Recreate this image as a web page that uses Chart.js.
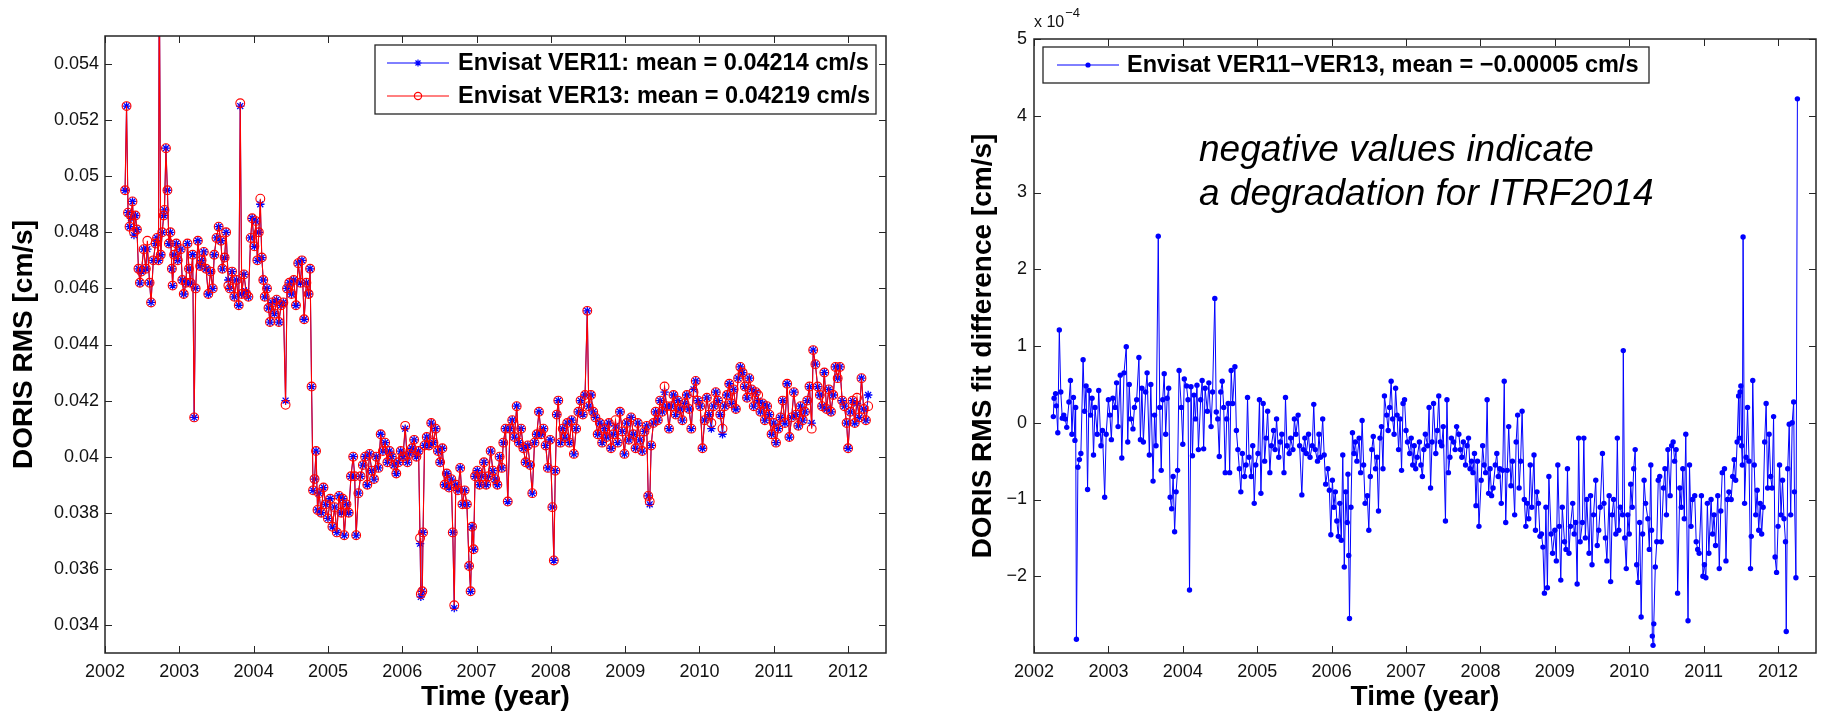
<!DOCTYPE html>
<html><head><meta charset="utf-8">
<script src="https://cdn.jsdelivr.net/npm/chart.js@4/dist/chart.umd.min.js"></script>
<style>
html,body{margin:0;padding:0;background:#fff;width:1825px;height:713px;overflow:hidden}
#c1{position:absolute;left:0;top:0}
#c2{position:absolute;left:920px;top:0}
</style></head><body>
<canvas id="c1" width="920" height="713"></canvas>
<canvas id="c2" width="905" height="713"></canvas>
<script>
// ---------- DATA ----------
const xTicks = [2002,2003,2004,2005,2006,2007,2008,2009,2010,2011,2012];
const yTicksLeft = [0.034,0.036,0.038,0.040,0.042,0.044,0.046,0.048,0.050,0.052,0.054];
const yTicksRight = [-2,-1,0,1,2,3,4,5];
const labelVer11 = 'Envisat VER11: mean = 0.04214 cm/s';
const labelVer13 = 'Envisat VER13: mean = 0.04219 cm/s';
const labelDiff = 'Envisat VER11\u2212VER13, mean = \u22120.00005 cm/s';
const noteLines = ['negative values indicate', 'a degradation for ITRF2014'];

const years1 = [
2002.27,2002.29,2002.31,2002.33,2002.35,2002.37,2002.39,2002.41,2002.43,2002.45,
2002.47,2002.49,2002.52,2002.55,2002.57,2002.60,2002.62,2002.65,2002.68,2002.70,
2002.72,2002.73,2002.75,2002.77,2002.79,2002.80,2002.82,2002.84,2002.86,2002.88,
2002.90,2002.91,2002.93,2002.96,2002.98,2003.02,2003.04,2003.06,2003.09,2003.11,
2003.13,2003.15,2003.18,2003.20,2003.22,2003.25,2003.28,2003.30,2003.33,2003.36,
2003.39,2003.42,2003.45,2003.47,2003.50,2003.53,2003.56,2003.58,2003.61,2003.63,
2003.66,2003.68,2003.71,2003.74,2003.77,2003.80,2003.82,2003.84,2003.87,2003.90,
2003.93,2003.96,2003.98,2004.01,2004.03,2004.05,2004.07,2004.09,2004.11,2004.13,
2004.15,2004.18,2004.20,2004.22,2004.25,2004.28,2004.31,2004.34,2004.37,2004.40,
2004.43,2004.45,2004.48,2004.51,2004.54,2004.57,2004.60,2004.63,2004.65,2004.68,
2004.71,2004.74,2004.76,2004.78,2004.80,2004.82,2004.84,2004.86,2004.88,2004.91,
2004.94,2004.97,2005.00,2005.03,2005.06,2005.09,2005.12,2005.15,2005.18,2005.20,
2005.22,2005.25,2005.28,2005.31,2005.34,2005.36,2005.38,2005.41,2005.44,2005.47,
2005.50,2005.53,2005.56,2005.59,2005.62,2005.65,2005.68,2005.71,2005.74,2005.77,
2005.80,2005.83,2005.86,2005.89,2005.92,2005.95,2005.98,2006.01,2006.04,2006.07,
2006.10,2006.13,2006.16,2006.19,2006.22,2006.24,2006.25,2006.27,2006.28,2006.30,
2006.33,2006.36,2006.39,2006.42,2006.45,2006.48,2006.51,2006.54,2006.57,2006.60,
2006.63,2006.66,2006.68,2006.70,2006.72,2006.75,2006.78,2006.81,2006.84,2006.87,
2006.90,2006.92,2006.94,2006.96,2006.98,2007.01,2007.04,2007.07,2007.10,2007.13,
2007.16,2007.19,2007.22,2007.25,2007.28,2007.31,2007.34,2007.36,2007.39,2007.42,
2007.45,2007.48,2007.51,2007.54,2007.57,2007.60,2007.63,2007.66,2007.69,2007.72,
2007.75,2007.78,2007.81,2007.84,2007.87,2007.90,2007.93,2007.96,2007.99,2008.02,
2008.04,2008.06,2008.08,2008.10,2008.13,2008.16,2008.19,2008.22,2008.25,2008.28,
2008.31,2008.34,2008.37,2008.40,2008.43,2008.46,2008.49,2008.51,2008.54,2008.57,
2008.60,2008.63,2008.66,2008.69,2008.72,2008.75,2008.78,2008.81,2008.84,2008.87,
2008.90,2008.93,2008.96,2008.99,2009.02,2009.05,2009.08,2009.11,2009.14,2009.17,
2009.20,2009.23,2009.26,2009.29,2009.31,2009.33,2009.35,2009.38,2009.41,2009.44,
2009.47,2009.50,2009.53,2009.56,2009.59,2009.62,2009.65,2009.68,2009.71,2009.74,
2009.77,2009.80,2009.83,2009.86,2009.89,2009.92,2009.95,2009.98,2010.01,2010.04,
2010.07,2010.10,2010.13,2010.16,2010.19,2010.22,2010.25,2010.28,2010.31,2010.34,
2010.37,2010.40,2010.43,2010.46,2010.49,2010.52,2010.55,2010.58,2010.61,2010.64,
2010.67,2010.70,2010.73,2010.76,2010.79,2010.82,2010.85,2010.88,2010.91,2010.94,
2010.97,2011.00,2011.03,2011.06,2011.09,2011.12,2011.15,2011.18,2011.21,2011.24,
2011.27,2011.30,2011.33,2011.36,2011.39,2011.42,2011.45,2011.48,2011.51,2011.53,
2011.56,2011.59,2011.62,2011.65,2011.68,2011.71,2011.74,2011.77,2011.80,2011.83,
2011.86,2011.89,2011.92,2011.95,2011.98,2012.00,2012.03,2012.06,2012.09,2012.12,
2012.15,2012.18,2012.21,2012.24,2012.27];

const ver11 = [
.0495,.0525,.0487,.0482,.0485,.0491,.0479,.0486,.0481,.0467,
.0462,.0466,.0474,.0467,.0474,.0462,.0455,.0470,.0476,.0478,
.0470,.0580,.0472,.0480,.0486,.0488,.0510,.0495,.0476,.0480,
.0467,.0461,.0472,.0476,.0470,.0474,.0463,.0458,.0462,.0476,
.0467,.0462,.0472,.0414,.0460,.0477,.0468,.0470,.0473,.0467,
.0458,.0466,.0460,.0472,.0478,.0482,.0477,.0467,.0471,.0480,
.0463,.0460,.0466,.0457,.0463,.0454,.0525,.0458,.0465,.0459,
.0457,.0478,.0485,.0475,.0484,.0470,.0480,.0490,.0471,.0463,
.0457,.0460,.0453,.0448,.0455,.0451,.0456,.0448,.0454,.0455,
.0420,.0460,.0462,.0458,.0463,.0454,.0469,.0462,.0470,.0449,
.0462,.0458,.0467,.0425,.0388,.0392,.0402,.0381,.0387,.0380,
.0389,.0383,.0378,.0385,.0375,.0382,.0373,.0386,.0380,.0385,
.0372,.0383,.0380,.0393,.0400,.0393,.0372,.0387,.0393,.0397,
.0400,.0390,.0401,.0395,.0392,.0400,.0396,.0408,.0402,.0405,
.0398,.0402,.0400,.0397,.0394,.0398,.0402,.0400,.0410,.0398,
.0401,.0403,.0406,.0400,.0402,.0369,.0350,.0352,.0373,.0404,
.0407,.0404,.0412,.0405,.0410,.0402,.0398,.0403,.0390,.0394,
.0389,.0392,.0373,.0346,.0390,.0388,.0396,.0383,.0388,.0383,
.0361,.0352,.0375,.0367,.0393,.0395,.0390,.0393,.0398,.0390,
.0393,.0402,.0395,.0392,.0390,.0400,.0396,.0405,.0410,.0384,
.0410,.0413,.0407,.0418,.0405,.0410,.0403,.0398,.0404,.0397,
.0387,.0405,.0408,.0416,.0408,.0410,.0404,.0396,.0406,.0382,
.0363,.0395,.0415,.0420,.0405,.0410,.0407,.0412,.0405,.0413,
.0401,.0410,.0416,.0420,.0415,.0422,.0452,.0418,.0422,.0416,
.0414,.0408,.0412,.0405,.0410,.0407,.0412,.0403,.0408,.0411,
.0405,.0416,.0409,.0401,.0412,.0406,.0414,.0408,.0403,.0412,
.0406,.0402,.0409,.0411,.0386,.0383,.0404,.0412,.0416,.0413,
.0420,.0416,.0423,.0418,.0410,.0418,.0422,.0415,.0420,.0417,
.0413,.0419,.0422,.0417,.0410,.0424,.0427,.0420,.0418,.0403,
.0413,.0421,.0415,.0410,.0418,.0423,.0420,.0415,.0408,.0418,
.0422,.0426,.0419,.0424,.0417,.0428,.0432,.0430,.0425,.0421,
.0428,.0424,.0418,.0423,.0420,.0416,.0419,.0413,.0418,.0415,
.0408,.0412,.0405,.0410,.0414,.0420,.0412,.0426,.0407,.0414,
.0423,.0415,.0411,.0418,.0413,.0416,.0420,.0425,.0412,.0438,
.0433,.0425,.0422,.0418,.0430,.0417,.0424,.0416,.0422,.0432,
.0428,.0432,.0420,.0418,.0412,.0403,.0416,.0420,.0412,.0419,
.0414,.0428,.0417,.0413,.0422];

const ver13 = [
.0495,.0525,.0487,.0482,.0486,.0491,.0480,.0486,.0481,.0467,
.0462,.0466,.0474,.0467,.0477,.0462,.0455,.0470,.0476,.0478,
.0470,.0580,.0472,.0480,.0486,.0488,.0510,.0495,.0476,.0480,
.0467,.0461,.0472,.0476,.0470,.0474,.0463,.0458,.0462,.0476,
.0467,.0462,.0472,.0414,.0460,.0477,.0468,.0470,.0473,.0467,
.0458,.0466,.0460,.0472,.0478,.0482,.0477,.0467,.0471,.0480,
.0461,.0460,.0466,.0457,.0463,.0454,.0526,.0458,.0465,.0458,
.0457,.0478,.0485,.0475,.0484,.0470,.0480,.0492,.0471,.0463,
.0457,.0460,.0453,.0448,.0455,.0451,.0456,.0448,.0454,.0455,
.04185,.0460,.0462,.0458,.0463,.0454,.0469,.0462,.0470,.0449,
.0462,.0458,.0467,.0425,.0388,.0392,.0402,.0381,.0387,.0380,
.0389,.0383,.0378,.0385,.0375,.0382,.0373,.0386,.0380,.0385,
.0372,.0383,.0380,.0393,.0400,.0393,.0372,.0387,.0393,.0397,
.0400,.0390,.0401,.0395,.0392,.0400,.0396,.0408,.0402,.0405,
.0398,.0402,.0400,.0397,.0394,.0398,.0402,.0400,.0411,.0398,
.0401,.0403,.0406,.0400,.0402,.0371,.0351,.0352,.0373,.0404,
.0407,.0404,.0412,.0405,.0410,.0402,.0398,.0403,.0390,.0394,
.0389,.0392,.0373,.0347,.0390,.0388,.0396,.0383,.0388,.0383,
.0361,.0352,.0375,.0367,.0393,.0395,.0390,.0393,.0398,.0390,
.0393,.0402,.0395,.0392,.0390,.0400,.0396,.0405,.0410,.0384,
.0410,.0413,.0407,.0418,.0405,.0410,.0403,.0398,.0404,.0397,
.0387,.0405,.0408,.0416,.0408,.0410,.0404,.0396,.0406,.0382,
.0363,.0395,.0415,.0420,.0405,.0410,.0407,.0412,.0405,.0413,
.0401,.0410,.0416,.0420,.0415,.0422,.0452,.0418,.0422,.0416,
.0414,.0408,.0412,.0405,.0410,.0407,.0412,.0403,.0408,.0413,
.0405,.0416,.0409,.0401,.0412,.0406,.0414,.0408,.0403,.0412,
.0406,.0402,.0409,.0411,.0386,.0384,.0404,.0412,.0416,.0413,
.0420,.0416,.0425,.0418,.0410,.0418,.0422,.0415,.0420,.0417,
.0413,.0419,.0422,.0417,.0410,.0423,.0427,.0420,.0418,.0403,
.0413,.0421,.0415,.0412,.0418,.0423,.0420,.0415,.0410,.0418,
.0422,.0426,.0419,.0424,.0417,.0428,.0432,.0430,.0425,.0421,
.0428,.0424,.0418,.0423,.0422,.0416,.0419,.0413,.0418,.0415,
.0408,.0412,.0405,.0410,.0414,.0420,.0412,.0426,.0407,.0414,
.0423,.0415,.0411,.0418,.0413,.0416,.0420,.0425,.0410,.0438,
.0433,.0425,.0422,.0418,.0430,.0417,.0424,.0416,.0422,.0432,
.0428,.0432,.0420,.0418,.0412,.0403,.0416,.0420,.0412,.0421,
.0414,.0428,.0417,.0413,.0418];

const years2 = [
2002.26,2002.27,2002.29,2002.30,2002.32,2002.34,2002.36,2002.38,2002.40,2002.42,
2002.44,2002.47,2002.49,2002.51,2002.53,2002.55,2002.56,2002.57,2002.59,2002.61,
2002.63,2002.66,2002.68,2002.70,2002.72,2002.74,2002.76,2002.78,2002.80,2002.82,
2002.85,2002.87,2002.90,2002.92,2002.95,2002.97,2003.00,2003.02,2003.04,2003.06,
2003.09,2003.11,2003.13,2003.16,2003.18,2003.21,2003.24,2003.26,2003.28,2003.30,
2003.33,2003.35,2003.38,2003.41,2003.43,2003.45,2003.47,2003.50,2003.52,2003.55,
2003.57,2003.60,2003.62,2003.64,2003.67,2003.69,2003.71,2003.73,2003.75,2003.77,
2003.79,2003.81,2003.83,2003.85,2003.87,2003.89,2003.91,2003.93,2003.95,2003.98,
2004.00,2004.02,2004.05,2004.07,2004.09,2004.11,2004.13,2004.15,2004.17,2004.19,
2004.21,2004.24,2004.26,2004.28,2004.30,2004.33,2004.35,2004.38,2004.40,2004.43,
2004.45,2004.47,2004.49,2004.51,2004.53,2004.55,2004.57,2004.59,2004.61,2004.63,
2004.65,2004.67,2004.70,2004.72,2004.74,2004.76,2004.78,2004.80,2004.83,2004.85,
2004.87,2004.89,2004.92,2004.94,2004.96,2004.98,2005.01,2005.03,2005.05,2005.08,
2005.10,2005.12,2005.14,2005.17,2005.19,2005.22,2005.24,2005.26,2005.29,2005.31,
2005.33,2005.36,2005.38,2005.40,2005.43,2005.45,2005.48,2005.50,2005.52,2005.55,
2005.57,2005.60,2005.62,2005.64,2005.66,2005.69,2005.71,2005.74,2005.76,2005.78,
2005.81,2005.83,2005.85,2005.88,2005.90,2005.92,2005.95,2005.97,2005.99,2006.01,
2006.03,2006.05,2006.07,2006.09,2006.11,2006.13,2006.15,2006.17,2006.19,2006.21,
2006.22,2006.23,2006.24,2006.26,2006.28,2006.30,2006.32,2006.34,2006.37,2006.39,
2006.41,2006.43,2006.45,2006.48,2006.50,2006.52,2006.54,2006.56,2006.59,2006.61,
2006.63,2006.65,2006.67,2006.69,2006.71,2006.74,2006.76,2006.78,2006.80,2006.82,
2006.84,2006.86,2006.88,2006.90,2006.92,2006.94,2006.96,2006.98,2007.00,2007.02,
2007.05,2007.07,2007.09,2007.11,2007.13,2007.15,2007.18,2007.20,2007.22,2007.24,
2007.26,2007.29,2007.31,2007.33,2007.35,2007.37,2007.40,2007.42,2007.44,2007.46,
2007.48,2007.50,2007.53,2007.55,2007.57,2007.59,2007.61,2007.64,2007.66,2007.68,
2007.71,2007.73,2007.75,2007.77,2007.80,2007.82,2007.84,2007.86,2007.88,2007.90,
2007.92,2007.94,2007.96,2007.98,2008.01,2008.03,2008.05,2008.07,2008.09,2008.11,
2008.13,2008.15,2008.17,2008.20,2008.22,2008.24,2008.26,2008.28,2008.30,2008.32,
2008.34,2008.36,2008.38,2008.41,2008.43,2008.46,2008.48,2008.50,2008.52,2008.54,
2008.56,2008.59,2008.61,2008.63,2008.65,2008.67,2008.69,2008.72,2008.74,2008.76,
2008.78,2008.80,2008.82,2008.84,2008.86,2008.88,2008.90,2008.92,2008.95,2008.97,
2009.00,2009.02,2009.04,2009.06,2009.08,2009.10,2009.13,2009.15,2009.17,2009.19,
2009.21,2009.24,2009.26,2009.28,2009.30,2009.32,2009.34,2009.37,2009.39,2009.41,
2009.43,2009.46,2009.48,2009.50,2009.52,2009.55,2009.57,2009.59,2009.61,2009.64,
2009.66,2009.68,2009.70,2009.73,2009.75,2009.77,2009.79,2009.82,2009.84,2009.86,
2009.88,2009.91,2009.92,2009.94,2009.96,2009.98,2010.00,2010.02,2010.04,2010.06,
2010.08,2010.10,2010.12,2010.14,2010.16,2010.18,2010.20,2010.22,2010.25,2010.27,
2010.29,2010.30,2010.31,2010.32,2010.33,2010.35,2010.37,2010.39,2010.41,2010.43,
2010.46,2010.48,2010.50,2010.52,2010.55,2010.57,2010.59,2010.61,2010.63,2010.65,
2010.68,2010.70,2010.72,2010.74,2010.76,2010.79,2010.81,2010.83,2010.85,2010.88,
2010.90,2010.92,2010.94,2010.97,2010.99,2011.01,2011.03,2011.05,2011.07,2011.10,
2011.12,2011.14,2011.16,2011.19,2011.21,2011.23,2011.25,2011.28,2011.30,2011.32,
2011.34,2011.37,2011.39,2011.41,2011.43,2011.45,2011.47,2011.48,2011.49,2011.50,
2011.51,2011.52,2011.53,2011.55,2011.57,2011.59,2011.61,2011.63,2011.64,2011.66,
2011.68,2011.70,2011.72,2011.74,2011.76,2011.78,2011.80,2011.82,2011.84,2011.86,
2011.88,2011.90,2011.92,2011.94,2011.96,2011.98,2012.00,2012.02,2012.04,2012.06,
2012.08,2012.10,2012.11,2012.13,2012.15,2012.17,2012.19,2012.21,2012.22,2012.24,
2012.26];

// VER11 - VER13, in units of 1e-4 cm/s
const diffE4 = [
0.08,0.32,0.38,0.22,-0.13,1.21,0.40,0.06,0.10,0.05,
-0.06,0.27,0.55,-0.15,0.33,-0.23,0.20,-2.82,-0.58,-0.48,
-0.40,0.82,0.15,0.48,-0.87,0.42,0.10,0.32,-0.42,0.20,
-0.15,0.42,-0.30,-0.10,-0.97,-0.15,0.30,0.10,-0.22,0.32,
0.20,0.52,-0.05,0.62,-0.46,0.65,0.99,-0.25,0.50,0.05,
-0.08,0.20,0.30,0.85,-0.22,0.45,-0.25,0.40,0.65,-0.42,
0.50,-0.76,0.10,-0.30,2.43,0.20,-0.62,0.30,0.64,-0.15,
0.32,0.45,-0.97,-1.12,-0.70,-1.42,-0.90,-0.62,0.68,0.20,
-0.28,0.57,0.48,0.30,-2.18,0.47,-0.43,0.36,0.05,0.49,
-0.35,0.30,0.55,-0.34,0.45,0.15,0.52,-0.05,0.40,1.62,
0.14,0.05,-0.44,0.40,0.54,0.20,-0.65,0.05,0.25,-0.65,
0.68,0.25,0.73,-0.10,-0.35,-0.60,-0.90,-0.40,-0.70,-0.55,
0.33,-0.45,-0.70,-0.30,-1.05,-0.55,-0.40,0.30,-0.92,0.25,
-0.50,-0.20,0.15,-0.65,-0.30,-0.10,-0.35,0.05,-0.45,-0.25,
-0.15,-0.65,0.33,-0.30,-0.40,-0.20,-0.35,0.05,-0.15,0.10,
-0.30,-0.94,-0.35,-0.20,-0.40,-0.15,-0.45,-0.30,0.24,-0.35,
-0.50,-0.15,-0.45,0.05,-0.42,-0.80,-0.60,-0.88,-1.46,-0.75,
-1.10,-0.90,-1.28,-1.48,-1.05,-1.53,-0.42,-1.88,-0.90,-1.30,
-0.67,-1.73,-2.55,-1.10,-0.13,-0.40,-0.25,-0.50,-0.20,-0.65,
0.03,-0.55,-1.05,-0.95,-1.40,-0.70,-0.35,-0.18,-0.60,-0.45,
-1.15,-0.20,-0.05,-0.60,0.35,0.10,-0.10,0.20,0.54,0.05,
-0.15,0.45,0.10,-0.35,0.05,-0.62,0.25,0.30,-0.10,-0.25,
-0.40,-0.20,-0.55,-0.30,-0.60,-0.45,-0.25,-0.55,-0.70,-0.35,
-0.15,-0.30,0.20,-0.85,-0.25,0.25,-0.40,-0.10,0.35,-0.25,
-0.30,-0.05,-1.28,0.30,-0.65,-0.45,-0.20,-0.25,-0.35,-0.05,
-0.15,-0.35,-0.45,-0.25,-0.55,-0.30,-0.20,-0.60,-0.50,-0.65,
-0.40,-1.08,-0.50,-1.35,-0.75,-0.30,-0.55,-0.65,0.30,-0.92,
-0.60,-0.95,-0.85,-0.55,-0.40,-0.70,-0.60,-1.05,-0.62,0.54,
-1.30,-0.62,-0.05,-0.82,-0.50,-1.20,-0.25,0.10,-0.85,-0.50,
0.15,-1.00,-1.35,-1.05,-1.25,-0.55,-1.10,-0.42,-1.40,-0.90,
-1.05,-1.48,-1.45,-1.62,-2.22,-1.10,-2.15,-0.70,-1.45,-1.70,
-1.40,-1.80,-0.55,-1.35,-2.05,-1.10,-1.55,-1.65,-0.60,-1.70,
-1.35,-1.05,-1.45,-1.30,-2.10,-0.20,-1.55,-1.30,-0.20,-1.50,
-1.00,-1.70,-0.95,-1.85,-1.20,-0.75,-1.60,-1.40,-1.10,-0.40,
-1.05,-1.50,-1.80,-0.95,-2.07,-1.20,-1.00,-1.45,-0.20,-1.40,
-1.10,-1.20,0.94,-1.50,-1.90,-1.20,-1.45,-0.80,-1.10,-0.60,
-0.35,-1.85,-2.08,-1.30,-2.53,-1.45,-0.75,-1.05,-1.25,-1.65,
-0.55,-1.40,-2.78,-2.90,-2.62,-1.88,-1.55,-0.75,-0.70,-1.55,
-0.85,-0.60,-1.20,-0.35,-0.95,-0.30,-0.25,-0.50,-0.35,-2.22,
-0.85,-1.10,-0.60,-1.25,-0.15,-2.58,-0.55,-1.35,-1.00,-0.95,
-1.55,-1.65,-1.70,-0.95,-2.00,-1.85,-2.02,-1.05,-1.70,-1.00,
-1.45,-1.20,-1.60,-0.95,-1.90,-1.15,-0.65,-0.60,-1.80,-1.00,
-0.90,-1.00,-0.70,-0.48,-0.75,-0.25,0.35,-0.20,0.40,0.48,
-0.30,-0.55,2.42,-1.05,-0.45,0.20,-0.50,-1.90,-1.48,0.55,
-0.55,-1.20,-0.88,-1.40,-1.05,-1.45,-1.10,-0.25,0.25,-0.85,
-0.15,-0.70,-0.85,0.08,-1.75,-1.95,-1.35,-0.55,-1.20,-0.75,
-1.25,-1.55,-2.72,-0.60,-0.02,-1.20,0.00,0.27,-0.90,-2.02,
4.22];

// ---------- STYLE ----------
const FONT = '"Liberation Sans", Arial, Helvetica, sans-serif';
const AXIS = '#262626';
const BLUE = '#0000ff', RED = '#ff0000';
const TICK_LEN = 7;
Chart.defaults.font.family = FONT;
Chart.defaults.color = '#111';

function fmtLeft(v){ return String(+v.toFixed(3)); }
function fmtRight(v){ return v < 0 ? '\u2212' + Math.abs(v) : String(v); }

function drawMarker(ctx, style, x, y, r, color){
  ctx.save();
  ctx.strokeStyle = color; ctx.fillStyle = color; ctx.lineWidth = 1.2;
  ctx.beginPath();
  if (style === 'star') {
    ctx.moveTo(x - r, y); ctx.lineTo(x + r, y);
    ctx.moveTo(x, y - r); ctx.lineTo(x, y + r);
    const d = r * Math.SQRT1_2;
    ctx.moveTo(x - d, y - d); ctx.lineTo(x + d, y + d);
    ctx.moveTo(x - d, y + d); ctx.lineTo(x + d, y - d);
    ctx.stroke();
  } else if (style === 'circle') {
    ctx.arc(x, y, r, 0, Math.PI * 2); ctx.stroke();
  } else {
    ctx.arc(x, y, r, 0, Math.PI * 2); ctx.fill();
  }
  ctx.restore();
}

function makeFrame(extra){
  return {
    id: 'frame',
    afterDraw(chart){
      const {ctx, chartArea: a, scales} = chart;
      ctx.save();
      ctx.strokeStyle = AXIS; ctx.lineWidth = 1;
      ctx.beginPath();
      scales.x.ticks.forEach(t => {
        const px = Math.round(scales.x.getPixelForValue(t.value)) + 0.5;
        ctx.moveTo(px, a.bottom); ctx.lineTo(px, a.bottom - TICK_LEN);
        ctx.moveTo(px, a.top); ctx.lineTo(px, a.top + TICK_LEN);
      });
      scales.y.ticks.forEach(t => {
        const py = Math.round(scales.y.getPixelForValue(t.value)) + 0.5;
        ctx.moveTo(a.left, py); ctx.lineTo(a.left + TICK_LEN, py);
        ctx.moveTo(a.right, py); ctx.lineTo(a.right - TICK_LEN, py);
      });
      ctx.stroke();
      ctx.lineWidth = 1.5;
      ctx.strokeRect(a.left, a.top, a.right - a.left, a.bottom - a.top);
      extra(ctx, chart);
      ctx.restore();
    }
  };
}

function legendBox(ctx, box, rows, fontSize){
  ctx.save();
  ctx.fillStyle = '#fff';
  ctx.fillRect(box.x, box.y, box.w, box.h);
  ctx.strokeStyle = AXIS; ctx.lineWidth = 1.3;
  ctx.strokeRect(box.x, box.y, box.w, box.h);
  rows.forEach(r => {
    ctx.strokeStyle = r.color; ctx.lineWidth = 1;
    ctx.beginPath(); ctx.moveTo(r.x0, r.y); ctx.lineTo(r.x1, r.y); ctx.stroke();
    drawMarker(ctx, r.marker, (r.x0 + r.x1) / 2, r.y, r.mr, r.color);
    ctx.fillStyle = '#000';
    ctx.font = 'bold ' + fontSize + 'px ' + FONT;
    ctx.textBaseline = 'middle'; ctx.textAlign = 'left';
    ctx.fillText(r.text, r.tx, r.y + 1);
  });
  ctx.restore();
}

// ---------- LEFT CHART ----------
new Chart(document.getElementById('c1'), {
  type: 'line',
  data: { datasets: [
    { label: labelVer11, data: years1.map((x, i) => ({x, y: ver11[i]})),
      borderColor: BLUE, borderWidth: 1, pointStyle: 'star', pointRadius: 4.2,
      pointBorderColor: BLUE, pointBorderWidth: 1.3, pointBackgroundColor: BLUE,
      tension: 0, order: 2 },
    { label: labelVer13, data: years1.map((x, i) => ({x, y: ver13[i]})),
      borderColor: RED, borderWidth: 1.1, pointStyle: 'circle', pointRadius: 4.4,
      pointBorderColor: RED, pointBorderWidth: 1.1, pointBackgroundColor: 'rgba(0,0,0,0)',
      tension: 0, order: 1 }
  ]},
  options: {
    responsive: false, animation: false, devicePixelRatio: 1,
    layout: { padding: { top: 36, right: 34, left: 0, bottom: 0 } },
    plugins: { legend: { display: false }, tooltip: { enabled: false } },
    scales: {
      x: { type: 'linear', min: 2002, max: 2012.51,
        afterBuildTicks: s => { s.ticks = xTicks.map(v => ({value: v})); },
        afterFit: s => { s.height = 60; },
        grid: { display: false, drawTicks: false }, border: { display: false },
        ticks: { font: { size: 18 }, color: '#111', padding: 8, maxRotation: 0, autoSkip: false, callback: v => String(v) },
        title: { display: true, text: 'Time (year)', color: '#000', font: { size: 28, weight: 'bold', lineHeight: 1.15 }, padding: { top: 0, bottom: 0 } } },
      y: { type: 'linear', min: 0.033, max: 0.055,
        afterBuildTicks: s => { s.ticks = yTicksLeft.map(v => ({value: v})); },
        afterFit: s => { s.width = 105; },
        grid: { display: false, drawTicks: false }, border: { display: false },
        ticks: { font: { size: 18 }, color: '#111', padding: 6, autoSkip: false, callback: v => fmtLeft(v) },
        title: { display: true, text: 'DORIS RMS [cm/s]', color: '#000', font: { size: 28, weight: 'bold', lineHeight: 1.15 }, padding: { top: 8, bottom: 0 } } }
    }
  },
  plugins: [makeFrame((ctx, chart) => {
    const ds = chart.data.datasets;
    legendBox(ctx, {x: 375, y: 45, w: 501, h: 69}, [
      {x0: 387, x1: 449, y: 63, color: BLUE, marker: 'star', mr: 3.5, text: ds[0].label, tx: 458},
      {x0: 387, x1: 449, y: 96, color: RED, marker: 'circle', mr: 3.6, text: ds[1].label, tx: 458}
    ], 23.5);
  })]
});

// ---------- RIGHT CHART ----------
new Chart(document.getElementById('c2'), {
  type: 'line',
  data: { datasets: [
    { label: labelDiff, data: years2.map((x, i) => ({x, y: diffE4[i]})),
      borderColor: BLUE, borderWidth: 1, pointStyle: 'circle', pointRadius: 2.7,
      pointBorderWidth: 0, pointBackgroundColor: BLUE, pointBorderColor: BLUE, tension: 0 }
  ]},
  options: {
    responsive: false, animation: false, devicePixelRatio: 1,
    layout: { padding: { top: 39, right: 9, left: 0, bottom: 0 } },
    plugins: { legend: { display: false }, tooltip: { enabled: false } },
    scales: {
      x: { type: 'linear', min: 2002, max: 2012.51,
        afterBuildTicks: s => { s.ticks = xTicks.map(v => ({value: v})); },
        afterFit: s => { s.height = 60; },
        grid: { display: false, drawTicks: false }, border: { display: false },
        ticks: { font: { size: 18 }, color: '#111', padding: 8, maxRotation: 0, autoSkip: false, callback: v => String(v) },
        title: { display: true, text: 'Time (year)', color: '#000', font: { size: 28, weight: 'bold', lineHeight: 1.15 }, padding: { top: 0, bottom: 0 } } },
      y: { type: 'linear', min: -3, max: 5,
        afterBuildTicks: s => { s.ticks = yTicksRight.map(v => ({value: v})); },
        afterFit: s => { s.width = 114; },
        grid: { display: false, drawTicks: false }, border: { display: false },
        ticks: { font: { size: 18 }, color: '#111', padding: 7, autoSkip: false, callback: v => fmtRight(v) },
        title: { display: true, text: 'DORIS RMS fit difference [cm/s]', color: '#000', font: { size: 28, weight: 'bold', lineHeight: 1.15 }, padding: { top: 47, bottom: 0 } } }
    }
  },
  plugins: [makeFrame((ctx, chart) => {
    const ds = chart.data.datasets;
    legendBox(ctx, {x: 123, y: 47, w: 606, h: 36}, [
      {x0: 137, x1: 199, y: 65, color: BLUE, marker: 'dot', mr: 2.6, text: ds[0].label, tx: 207}
    ], 23.5);
    // exponent label
    ctx.fillStyle = '#111';
    ctx.textBaseline = 'middle'; ctx.textAlign = 'left';
    ctx.font = '16px ' + FONT;
    ctx.fillText('x 10', 114, 23);
    const w = ctx.measureText('x 10').width;
    ctx.font = '13px ' + FONT;
    ctx.fillText('\u22124', 114 + w + 1, 13);
    // annotation
    ctx.fillStyle = '#000';
    ctx.font = 'italic 37px ' + FONT;
    ctx.fillText(noteLines[0], 279, 151);
    ctx.fillText(noteLines[1], 279, 195);
  })]
});
</script>
</body></html>
